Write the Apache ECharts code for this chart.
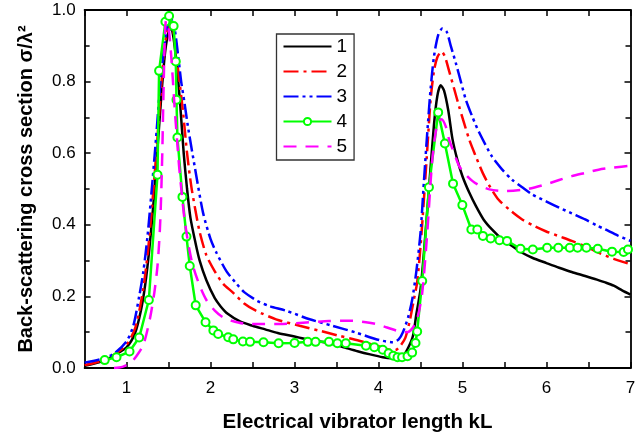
<!DOCTYPE html>
<html>
<head>
<meta charset="utf-8">
<script src="https://cdn.jsdelivr.net/npm/echarts@6/dist/echarts.min.js"></script>
<style>html,body{margin:0;padding:0;background:#fff}#c{width:641px;height:438px}</style>
</head>
<body>
<div id="c"></div>
<script>
const seriesNames = ['1', '2', '3', '4', '5'];
const xTicks = [1, 2, 3, 4, 5, 6, 7];
const yTicks = [0.0, 0.2, 0.4, 0.6, 0.8, 1.0];

const curve1 = [[0.5,0.006],[0.7,0.018],[0.85,0.035],[1.0,0.058],[1.1,0.097],[1.17,0.16],[1.22,0.23],[1.27,0.33],[1.32,0.46],[1.37,0.62],[1.42,0.78],[1.46,0.885],[1.5,0.94],[1.53,0.95],[1.56,0.92],[1.6,0.84],[1.64,0.73],[1.68,0.6],[1.72,0.5],[1.76,0.42],[1.82,0.35],[1.87,0.3],[1.95,0.245],[2.05,0.195],[2.12,0.172],[2.2,0.152],[2.35,0.13],[2.5,0.118],[2.65,0.108],[2.8,0.098],[3.0,0.088],[3.15,0.08],[3.3,0.074],[3.45,0.067],[3.6,0.057],[3.75,0.047],[3.9,0.038],[4.05,0.03],[4.15,0.027],[4.24,0.028],[4.3,0.036],[4.36,0.06],[4.41,0.09],[4.45,0.15],[4.5,0.22],[4.55,0.35],[4.6,0.5],[4.66,0.68],[4.7,0.76],[4.74,0.79],[4.78,0.775],[4.83,0.72],[4.88,0.64],[4.94,0.58],[5.0,0.535],[5.08,0.49],[5.16,0.452],[5.25,0.415],[5.35,0.387],[5.47,0.36],[5.59,0.341],[5.71,0.322],[5.83,0.308],[6.0,0.293],[6.15,0.28],[6.3,0.268],[6.46,0.257],[6.6,0.247],[6.7,0.239],[6.8,0.23],[6.9,0.217],[7.0,0.205]];

const curve2 = [[0.5,0.008],[0.7,0.02],[0.85,0.037],[1.0,0.065],[1.1,0.11],[1.16,0.17],[1.21,0.24],[1.26,0.34],[1.31,0.47],[1.36,0.62],[1.41,0.78],[1.45,0.89],[1.49,0.95],[1.52,0.965],[1.55,0.95],[1.59,0.88],[1.63,0.8],[1.67,0.72],[1.72,0.6],[1.77,0.508],[1.82,0.44],[1.87,0.38],[1.95,0.315],[2.05,0.27],[2.15,0.235],[2.27,0.21],[2.4,0.18],[2.54,0.16],[2.78,0.136],[3.06,0.118],[3.3,0.104],[3.53,0.09],[3.77,0.076],[4.01,0.06],[4.12,0.052],[4.2,0.05],[4.26,0.062],[4.32,0.085],[4.37,0.13],[4.42,0.19],[4.46,0.24],[4.5,0.34],[4.54,0.47],[4.58,0.61],[4.62,0.75],[4.66,0.83],[4.7,0.868],[4.75,0.884],[4.79,0.87],[4.84,0.83],[4.9,0.78],[4.96,0.73],[5.08,0.638],[5.16,0.59],[5.24,0.545],[5.33,0.505],[5.43,0.47],[5.57,0.44],[5.71,0.415],[5.85,0.397],[5.99,0.382],[6.15,0.368],[6.3,0.355],[6.46,0.34],[6.62,0.322],[6.8,0.305],[7.0,0.29]];

const curve3 = [[0.5,0.015],[0.7,0.025],[0.85,0.04],[1.0,0.075],[1.08,0.118],[1.15,0.2],[1.2,0.27],[1.25,0.37],[1.3,0.5],[1.35,0.64],[1.4,0.79],[1.45,0.9],[1.49,0.96],[1.53,0.975],[1.57,0.95],[1.61,0.88],[1.65,0.8],[1.69,0.74],[1.73,0.675],[1.81,0.564],[1.91,0.434],[2.0,0.36],[2.07,0.322],[2.19,0.27],[2.31,0.235],[2.4,0.212],[2.56,0.187],[2.7,0.173],[2.9,0.16],[3.18,0.136],[3.45,0.118],[3.73,0.099],[4.01,0.078],[4.17,0.072],[4.24,0.08],[4.29,0.1],[4.35,0.14],[4.4,0.19],[4.45,0.27],[4.5,0.378],[4.54,0.52],[4.58,0.657],[4.62,0.78],[4.66,0.87],[4.71,0.93],[4.76,0.948],[4.81,0.94],[4.86,0.9],[4.92,0.852],[4.98,0.8],[5.04,0.749],[5.12,0.7],[5.2,0.657],[5.35,0.591],[5.47,0.555],[5.59,0.526],[5.71,0.505],[5.83,0.485],[6.0,0.465],[6.15,0.448],[6.3,0.432],[6.46,0.415],[6.6,0.398],[6.7,0.387],[6.85,0.37],[7.0,0.355]];

const curve4 = [[0.74,0.022],[0.88,0.03],[1.035,0.046],[1.15,0.085],[1.265,0.19],[1.368,0.54],[1.387,0.83],[1.462,0.967],[1.506,0.983],[1.56,0.955],[1.586,0.856],[1.594,0.749],[1.605,0.644],[1.665,0.478],[1.713,0.367],[1.752,0.285],[1.823,0.175],[1.94,0.128],[2.033,0.105],[2.09,0.095],[2.21,0.086],[2.27,0.08],[2.385,0.074],[2.47,0.073],[2.63,0.072],[2.81,0.069],[3.0,0.07],[3.157,0.073],[3.25,0.073],[3.41,0.073],[3.51,0.069],[3.61,0.069],[3.85,0.062],[3.95,0.058],[4.05,0.051],[4.12,0.041],[4.175,0.034],[4.226,0.03],[4.28,0.03],[4.345,0.033],[4.4,0.043],[4.44,0.07],[4.46,0.102],[4.52,0.243],[4.6,0.505],[4.71,0.714],[4.79,0.627],[4.887,0.515],[4.998,0.455],[5.105,0.387],[5.176,0.387],[5.243,0.369],[5.335,0.362],[5.44,0.357],[5.53,0.355],[5.69,0.333],[5.837,0.331],[6.007,0.336],[6.14,0.336],[6.277,0.336],[6.37,0.336],[6.475,0.336],[6.61,0.333],[6.78,0.325],[6.918,0.324],[6.97,0.331]];

const curve5 = [[0.85,0.0],[0.95,0.003],[1.05,0.015],[1.12,0.034],[1.2,0.065],[1.277,0.137],[1.33,0.21],[1.368,0.285],[1.395,0.38],[1.41,0.47],[1.425,0.6],[1.435,0.72],[1.445,0.83],[1.455,0.92],[1.47,0.97],[1.49,0.965],[1.51,0.93],[1.535,0.86],[1.555,0.79],[1.574,0.72],[1.6,0.64],[1.625,0.564],[1.66,0.48],[1.69,0.415],[1.74,0.34],[1.79,0.285],[1.87,0.23],[1.95,0.19],[2.05,0.16],[2.15,0.141],[2.25,0.132],[2.4,0.124],[2.6,0.123],[2.86,0.123],[3.14,0.127],[3.41,0.131],[3.69,0.132],[3.85,0.128],[3.97,0.123],[4.1,0.113],[4.24,0.103],[4.34,0.1],[4.4,0.11],[4.46,0.137],[4.52,0.21],[4.58,0.378],[4.64,0.582],[4.7,0.684],[4.75,0.695],[4.8,0.675],[4.84,0.638],[4.9,0.6],[4.96,0.564],[5.04,0.54],[5.12,0.522],[5.2,0.51],[5.32,0.499],[5.51,0.494],[5.75,0.499],[5.99,0.513],[6.15,0.525],[6.3,0.536],[6.46,0.545],[6.62,0.554],[6.8,0.56],[7.0,0.565]];

const curves = [curve1, curve2, curve3, curve4, curve5];
const colors = ['#000000', '#ff0000', '#0000ff', '#00ff00', '#ff00ff'];
const dashes = ['solid', [15, 5, 3, 5], [15, 4, 3, 4, 3, 4], 'solid', [13, 9]];

const FONT = 'Liberation Sans, Arial, Helvetica, sans-serif';
const chart = echarts.init(document.getElementById('c'), null, {renderer: 'canvas'});

const series = curves.map((d, i) => ({
  name: seriesNames[i],
  type: 'line',
  data: d,
  smooth: i === 3 ? false : 0.25,
  symbol: i === 3 ? 'emptyCircle' : 'none',
  symbolSize: 8,
  showSymbol: i === 3,
  lineStyle: {color: colors[i], width: 2.5, type: dashes[i], cap: 'butt'},
  itemStyle: {color: colors[i], borderColor: colors[i], borderWidth: 1.2},
  emphasis: {disabled: true},
  animation: false,
  z: 2 + i
}));

const legendData = seriesNames.map((n, i) => i === 3
  ? {name: n}
  : {name: n, itemStyle: {color: 'rgba(0,0,0,0)', borderColor: 'rgba(0,0,0,0)', borderWidth: 0, opacity: 0}});

chart.setOption({
  animation: false,
  backgroundColor: '#fff',
  grid: {left: 84.6, right: 10.5, top: 10, bottom: 69, containLabel: false},
  legend: {
    orient: 'vertical',
    left: 276.5,
    top: 34,
    itemWidth: 48,
    itemHeight: 9,
    itemGap: 6,
    padding: [3, 7, 4, 6],
    borderColor: '#333',
    borderWidth: 1.3,
    backgroundColor: '#fff',
    data: legendData,
    textStyle: {fontFamily: FONT, fontSize: 19, color: '#000', lineHeight: 18},
    selectedMode: false
  },
  xAxis: [{
    type: 'value', min: 0.5, max: 7, interval: 0.5, position: 'bottom',
    name: 'Electrical vibrator length kL', nameLocation: 'middle', nameGap: 44,
    nameTextStyle: {fontFamily: FONT, fontSize: 20.5, fontWeight: 'bold', color: '#000'},
    axisLine: {show: true, onZero: false, lineStyle: {color: '#000', width: 1.8}},
    axisTick: {show: true, inside: true, length: 6, lineStyle: {color: '#000', width: 1.5}},
    axisLabel: {fontFamily: FONT, fontSize: 17, color: '#000', margin: 12,
      formatter: v => xTicks.includes(Math.round(v * 100) / 100) ? String(v) : ''},
    splitLine: {show: false}
  }, {
    type: 'value', min: 0.5, max: 7, interval: 0.5, position: 'top',
    axisLine: {show: true, onZero: false, lineStyle: {color: '#000', width: 1.8}},
    axisTick: {show: true, inside: true, length: 6, lineStyle: {color: '#000', width: 1.5}},
    axisLabel: {show: false}, splitLine: {show: false}
  }],
  yAxis: [{
    type: 'value', min: 0, max: 1, interval: 0.2, position: 'left',
    name: 'Back-scattering cross section σ/λ²', nameLocation: 'middle', nameGap: 48, nameRotate: 90,
    nameTextStyle: {fontFamily: FONT, fontSize: 20, fontWeight: 'bold', color: '#000'},
    axisLine: {show: true, onZero: false, lineStyle: {color: '#000', width: 1.8}},
    axisTick: {show: true, inside: true, length: 6, lineStyle: {color: '#000', width: 1.5}},
    minorTick: {show: true, splitNumber: 2, length: 5, lineStyle: {color: '#000', width: 1.5}},
    axisLabel: {fontFamily: FONT, fontSize: 17, color: '#000', margin: 9,
      formatter: v => yTicks.some(t => Math.abs(t - v) < 1e-9) ? v.toFixed(1) : ''},
    splitLine: {show: false}, minorSplitLine: {show: false}
  }, {
    type: 'value', min: 0, max: 1, interval: 0.2, position: 'right',
    axisLine: {show: true, onZero: false, lineStyle: {color: '#000', width: 1.8}},
    axisTick: {show: true, inside: true, length: 6, lineStyle: {color: '#000', width: 1.5}},
    minorTick: {show: true, splitNumber: 2, length: 5, lineStyle: {color: '#000', width: 1.5}},
    axisLabel: {show: false}, splitLine: {show: false}, minorSplitLine: {show: false}
  }],
  series: series
});
</script>
</body>
</html>
